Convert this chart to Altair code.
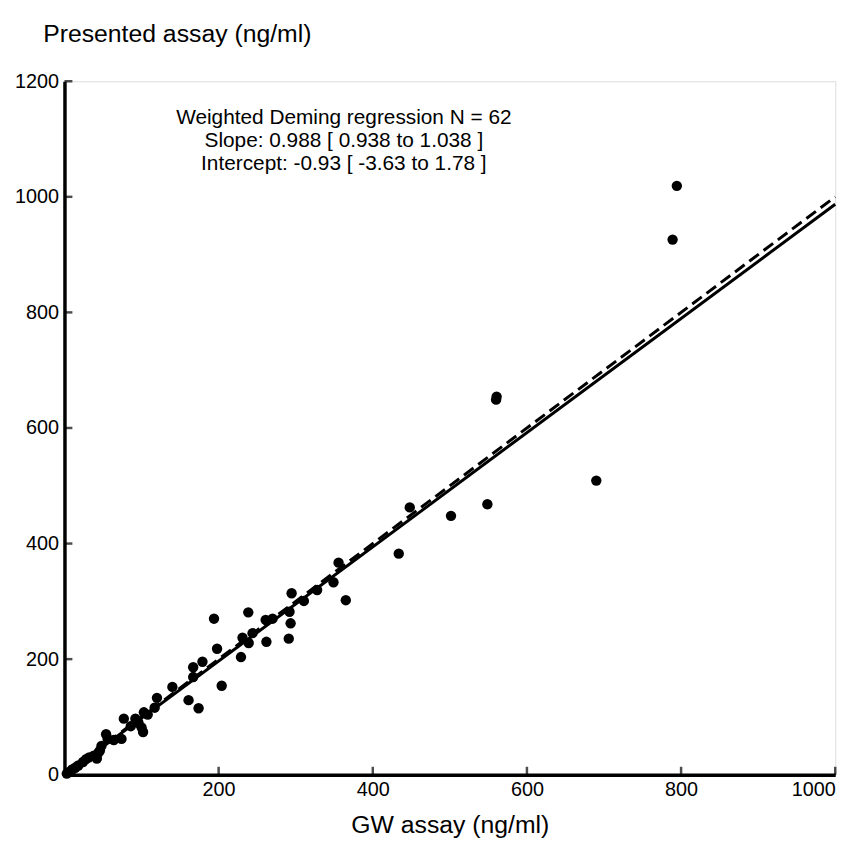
import altair as alt
import pandas as pd

# Scatter data (GW assay vs Presented assay, ng/ml)
gw = [3, 6, 10, 14, 18, 24, 28, 32, 38, 42, 44, 46, 48, 54, 56, 64,
      74, 77, 86, 92, 96, 100, 102, 103, 108, 117, 120, 140,
      161, 167, 167, 174, 179, 194, 198, 204, 229, 231, 238.5, 239, 244,
      261, 262, 270, 291, 292, 293.4, 294.7, 310.6, 327.8, 349, 355.6, 365,
      433.7, 448, 501.5, 548.7, 560.7, 560, 690, 789, 794.5]
presented = [2, 5, 9, 12, 16, 22, 27, 30, 33, 28, 38, 42, 50, 70, 62, 60,
             62, 97, 84, 97, 90, 82, 74, 108, 104, 116, 133, 152,
             129, 186, 169, 115, 195.5, 270, 218, 154, 203.6, 237, 281, 228, 245,
             268, 230, 270, 235.5, 282, 262, 314, 300.7, 319.6, 333, 367, 302,
             382.5, 462.6, 448, 468, 654, 649, 509, 926, 1019]

# Regression results
slope = 0.988
intercept = -0.93
line_x = [0, 1000]

annotation = ["Weighted Deming regression N = 62",
              "Slope: 0.988 [ 0.938 to 1.038 ]",
              "Intercept: -0.93 [ -3.63 to 1.78 ]"]

x_ticks = [200, 400, 600, 800, 1000]
y_ticks = [0, 200, 400, 600, 800, 1000, 1200]

pts = pd.DataFrame({"gw": gw, "presented": presented})
ident = pd.DataFrame({"gw": line_x, "presented": line_x})
reg = pd.DataFrame({"gw": line_x, "presented": [slope * v + intercept for v in line_x]})
xt = pd.DataFrame({"v": x_ticks})
yt = pd.DataFrame({"v": y_ticks})

FONT = "Liberation Sans"

xscale = alt.Scale(domain=[0, 1000], nice=False)
yscale = alt.Scale(domain=[0, 1200], nice=False)

xaxis = alt.Axis(values=x_ticks, format="d", ticks=False, grid=False, domainColor="black",
                 domainWidth=3.5, labelFontSize=20, labelColor="black", labelPadding=5,
                 labelFont=FONT, title="GW assay (ng/ml)", titleFont=FONT,
                 titleFontSize=25, titleFontWeight="normal", titleColor="black",
                 titleBaseline="top", titleY=38)
yaxis = alt.Axis(values=y_ticks, format="d", ticks=False, grid=False, domainColor="black",
                 domainWidth=3.5, labelFontSize=20, labelColor="black", labelPadding=6,
                 labelFont=FONT, title="Presented assay (ng/ml)", titleFont=FONT,
                 titleFontSize=25, titleFontWeight="normal", titleColor="black",
                 titleAngle=0, titleAlign="left", titleBaseline="middle",
                 titleX=-22, titleY=-48)

points = alt.Chart(pts).mark_point(filled=True, color="black", size=110, opacity=1).encode(
    x=alt.X("gw:Q", scale=xscale, axis=xaxis),
    y=alt.Y("presented:Q", scale=yscale, axis=yaxis),
)

ident_line = alt.Chart(ident).mark_line(color="black", strokeWidth=3, strokeDash=[12, 6]).encode(
    x=alt.X("gw:Q", scale=xscale), y=alt.Y("presented:Q", scale=yscale))
reg_line = alt.Chart(reg).mark_line(color="black", strokeWidth=3).encode(
    x=alt.X("gw:Q", scale=xscale), y=alt.Y("presented:Q", scale=yscale))

xtick_marks = alt.Chart(xt).mark_tick(orient="vertical", color="black", size=8,
                                      thickness=2.5, yOffset=-4).encode(
    x=alt.X("v:Q", scale=xscale), y=alt.datum(0))
ytick_marks = alt.Chart(yt).mark_tick(orient="horizontal", color="black", size=8,
                                      thickness=2.5, xOffset=4).encode(
    y=alt.Y("v:Q", scale=yscale), x=alt.datum(0))

text = alt.Chart(pd.DataFrame({"k": [0]})).mark_text(
    font=FONT, fontSize=21, color="black", align="center", baseline="top",
    lineHeight=23.5).encode(
    x=alt.value(282), y=alt.value(26), text=alt.value(annotation))

chart = alt.layer(reg_line, ident_line, points, xtick_marks, ytick_marks, text).properties(
    width=778, height=700,
    autosize=alt.AutoSizeParams(type="none"),
    padding={"left": 57, "top": 70, "right": 25, "bottom": 66},
).configure_view(stroke=None).configure(font=FONT)

chart.save("out.html", embed_options={"renderer": "svg", "actions": False})
